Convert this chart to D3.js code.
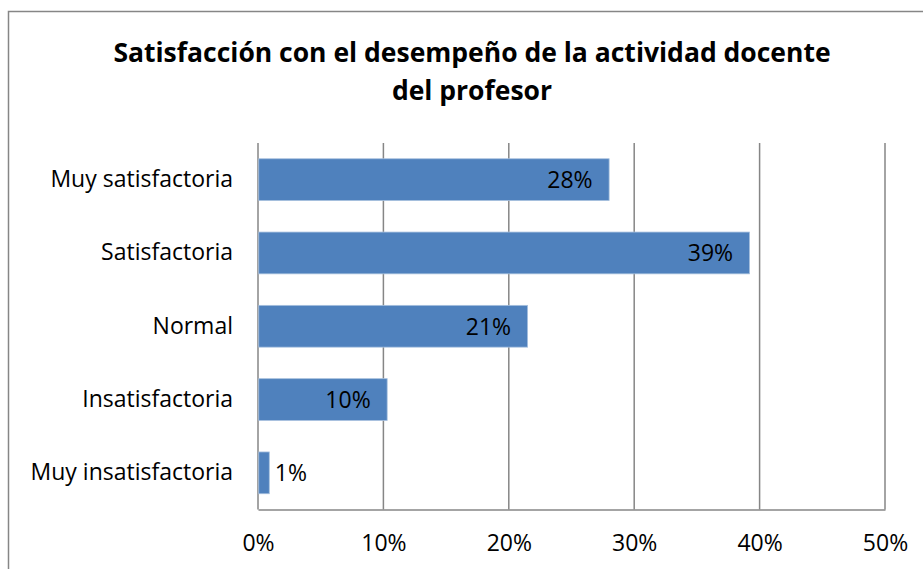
<!DOCTYPE html>
<html>
<head>
<meta charset="utf-8">
<script src="https://cdn.jsdelivr.net/npm/d3@7"></script>
<style>
  body { margin: 0; background: #fff; }
  svg text { font-family: "Open Sans", Lato, sans-serif; fill: #000; }
</style>
</head>
<body>
<svg id="chart" width="923" height="569"></svg>
<script>
// data
const categories = [
    "Muy satisfactoria",
    "Satisfactoria",
    "Normal",
    "Insatisfactoria",
    "Muy insatisfactoria"
];
const values = [28.0, 39.2, 21.5, 10.3, 0.9];
const labels = ["28%", "39%", "21%", "10%", "1%"];
const ticks = [0, 10, 20, 30, 40, 50];
const titleLines = [
    "Satisfacción con el desempeño de la actividad docente",
    "del profesor"
];

const svg = d3.select("svg#chart");
const gridColor = "#868686";
const barColor = "#4f81bd";
const labelSize = "23px";

// outer frame (right and bottom edges fall off the picture)
svg.append("rect")
    .attr("x", 8.5)
    .attr("y", 11.5)
    .attr("width", 940)
    .attr("height", 600)
    .attr("fill", "#fff")
    .attr("stroke", gridColor)
    .attr("stroke-width", 1.5);

let margin = { top: 143, left: 258, right: 923 - 885, bottom: 569 - 509.5 };
let plotWidth = 923 - margin.left - margin.right;
let plotHeight = 569 - margin.top - margin.bottom;

svg.selectAll("text.title")
    .data(titleLines)
    .enter()
    .append("text")
    .attr("class", "title")
    .attr("x", 472)
    .attr("y", (d, i) => 62 + i * 38)
    .attr("text-anchor", "middle")
    .style("font-size", "26.5px")
    .style("font-weight", "bold")
    .text(d => d);

let xScale = d3.scaleLinear()
    .domain([0, 50])
    .range([0, plotWidth]);

let yScale = d3.scaleBand()
    .domain(categories)
    .range([0, plotHeight])
    .paddingInner(0.43)
    .paddingOuter(0.215);

let plot = svg.append("g")
    .attr("id", "plot")
    .attr("transform", "translate(" + margin.left + "," + margin.top + ")");

// vertical gridlines
plot.selectAll("line.grid")
    .data(ticks)
    .enter()
    .append("line")
    .attr("class", "grid")
    .attr("x1", d => xScale(d))
    .attr("x2", d => xScale(d))
    .attr("y1", 0)
    .attr("y2", plotHeight)
    .attr("stroke", gridColor)
    .attr("stroke-width", 1.5);

// x axis
let xAxis = d3.axisBottom(xScale)
    .tickValues(ticks)
    .tickSize(0)
    .tickPadding(25.5)
    .tickFormat(d => d + "%");

let gx = plot.append("g")
    .attr("transform", "translate(0," + plotHeight + ")")
    .call(xAxis);
gx.select(".domain").attr("stroke", gridColor).attr("stroke-width", 1.5);
gx.selectAll("text").style("font-size", labelSize);

// y axis (labels only)
let yAxis = d3.axisLeft(yScale)
    .tickSize(0)
    .tickPadding(25);

let gy = plot.append("g").call(yAxis);
gy.select(".domain").remove();
gy.selectAll("text").style("font-size", labelSize);

// bars
plot.selectAll("rect.bar")
    .data(values)
    .enter()
    .append("rect")
    .attr("class", "bar")
    .attr("x", 0.75)
    .attr("y", (d, i) => yScale(categories[i]))
    .attr("width", d => xScale(d) - 0.75)
    .attr("height", yScale.bandwidth())
    .attr("fill", barColor)
    .attr("stroke", "#a7c0de")
    .attr("stroke-width", 0.8);

// data labels
plot.selectAll("text.value")
    .data(values)
    .enter()
    .append("text")
    .attr("class", "value")
    .attr("x", d => d < 3 ? xScale(d) + 5.5 : xScale(d) - 16.5)
    .attr("y", (d, i) => yScale(categories[i]) + yScale.bandwidth() / 2)
    .attr("dy", "0.37em")
    .attr("text-anchor", d => d < 3 ? "start" : "end")
    .style("font-size", labelSize)
    .text((d, i) => labels[i]);
</script>
</body>
</html>
